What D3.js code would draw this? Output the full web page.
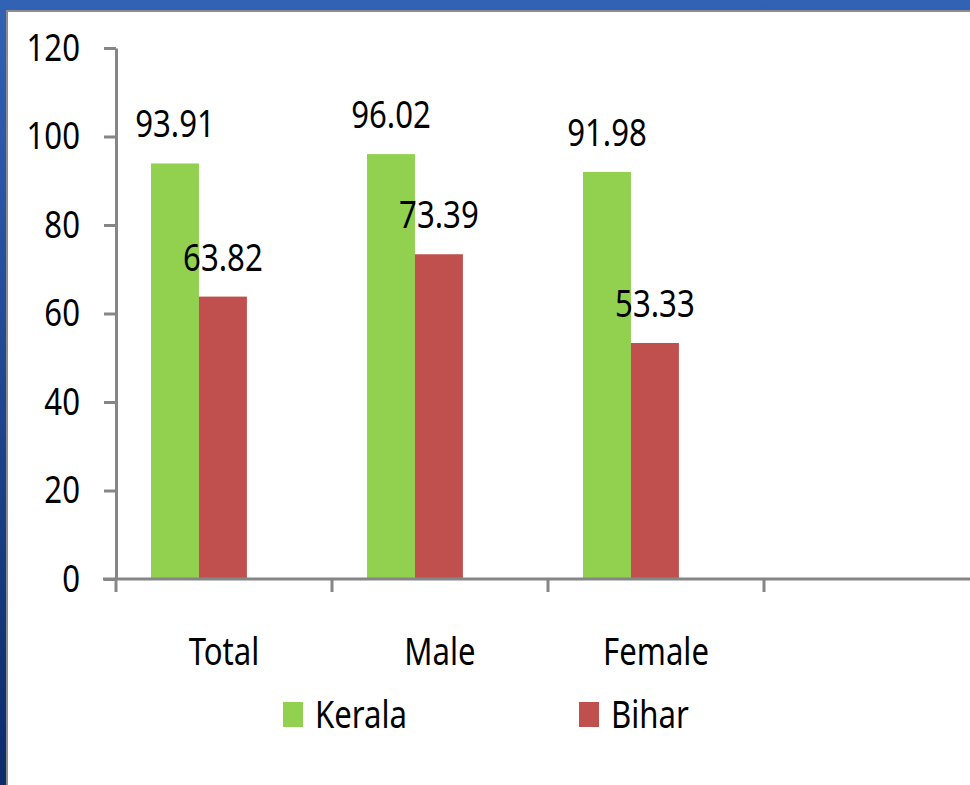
<!DOCTYPE html>
<html>
<head>
<meta charset="utf-8">
<script src="https://cdn.jsdelivr.net/npm/d3@7"></script>
<style>
  body { margin: 0; background: #2a55a5; }
  svg { display: block; }
  text { font-family: "Noto Sans", "Open Sans", sans-serif; fill: #000; }
</style>
</head>
<body>
<div id="chart"></div>
<script>
// data
var categories = ["Total", "Male", "Female", ""];
var seriesNames = ["Kerala", "Bihar"];
var seriesColors = ["#92d050", "#c0504d"];
var kerala = [93.91, 96.02, 91.98];
var bihar = [63.82, 73.39, 53.33];
var yTicks = [0, 20, 40, 60, 80, 100, 120];

var width = 970, height = 785;
var squeeze = 0.82; // text in the picture is narrow

var svg = d3.select("#chart").append("svg")
    .attr("width", width).attr("height", height);

// slide background
var grad = svg.append("defs").append("linearGradient")
    .attr("id", "bg").attr("x1", 0).attr("y1", 0).attr("x2", 0).attr("y2", 1);
grad.append("stop").attr("offset", "0%").attr("stop-color", "#3262b4");
grad.append("stop").attr("offset", "100%").attr("stop-color", "#0b2b6a");
svg.append("rect").attr("width", width).attr("height", height).attr("fill", "url(#bg)");
svg.append("rect")
    .attr("x", 7).attr("y", 11).attr("width", width).attr("height", height)
    .attr("fill", "#fff").attr("stroke", "#8c8c8c").attr("stroke-width", 2);

var y = d3.scaleLinear().domain([0, 120]).range([579, 48]);
var x = d3.scaleBand().domain(categories).range([116, 980]).paddingInner(0).paddingOuter(0);
var bw = x.bandwidth();

var rows = categories.slice(0, 3).map(function (c, i) {
  return {cat: c, values: [kerala[i], bihar[i]]};
});

// bars
var groups = svg.selectAll(".grp").data(rows).enter().append("g").attr("class", "grp");

groups.selectAll("rect").data(function (d) {
    return d.values.map(function (v, j) { return {cat: d.cat, v: v, j: j}; });
  }).enter().append("rect")
    .attr("x", function (d) { return x(d.cat) + bw * 0.162 + d.j * bw * 0.222; })
    .attr("width", bw * 0.222)
    .attr("y", function (d) { return y(d.v); })
    .attr("height", function (d) { return y(0) - y(d.v); })
    .attr("fill", function (d) { return seriesColors[d.j]; });

groups.selectAll("text").data(function (d) {
    return d.values.map(function (v, j) { return {cat: d.cat, v: v, j: j}; });
  }).enter().append("text")
    .attr("text-anchor", "middle")
    .attr("font-size", 38)
    .attr("transform", function (d) {
      var cx = x(d.cat) + bw * 0.162 + d.j * bw * 0.222 + bw * 0.111;
      return "translate(" + cx + "," + (y(d.v) - 26) + ") scale(" + squeeze + ",1)";
    })
    .text(function (d) { return d.v.toFixed(2); });

// y axis
var yAxis = svg.append("g")
    .attr("transform", "translate(116,0)")
    .call(d3.axisLeft(y).tickValues(yTicks).tickSize(12).tickSizeOuter(0).tickPadding(24));
yAxis.select(".domain").attr("stroke", "#868686").attr("stroke-width", 3);
yAxis.selectAll(".tick line").attr("stroke", "#868686").attr("stroke-width", 3);
yAxis.selectAll(".tick text")
    .attr("font-size", 38)
    .attr("font-family", "Noto Sans, Open Sans, sans-serif")
    .attr("fill", "#000")
    .attr("x", -36 / squeeze)
    .attr("transform", "scale(" + squeeze + ",1)");

// x axis (ticks at band edges, labels at band centres)
var xAxis = svg.append("g").attr("transform", "translate(0," + y(0) + ")");
xAxis.append("line")
    .attr("x1", 103).attr("x2", width).attr("y1", 0).attr("y2", 0)
    .attr("stroke", "#868686").attr("stroke-width", 3);
xAxis.selectAll(".xt").data(categories).enter().append("line")
    .attr("class", "xt")
    .attr("x1", function (d) { return x(d); }).attr("x2", function (d) { return x(d); })
    .attr("y1", 0).attr("y2", 13)
    .attr("stroke", "#868686").attr("stroke-width", 3);
xAxis.selectAll(".xl").data(categories.slice(0, 3)).enter().append("text")
    .attr("class", "xl")
    .attr("text-anchor", "middle")
    .attr("font-size", 38)
    .attr("transform", function (d) {
      return "translate(" + (x(d) + bw / 2) + ",86) scale(" + squeeze + ",1)";
    })
    .text(function (d) { return d; });

// legend
var legendX = [283, 579];
var legend = svg.selectAll(".leg").data(seriesNames).enter().append("g")
    .attr("class", "leg")
    .attr("transform", function (d, i) { return "translate(" + legendX[i] + ",702)"; });
legend.append("rect")
    .attr("width", 20).attr("height", 25)
    .attr("fill", function (d, i) { return seriesColors[i]; });
legend.append("text")
    .attr("font-size", 38)
    .attr("transform", "translate(32,26) scale(" + squeeze + ",1)")
    .text(function (d) { return d; });
</script>
</body>
</html>
